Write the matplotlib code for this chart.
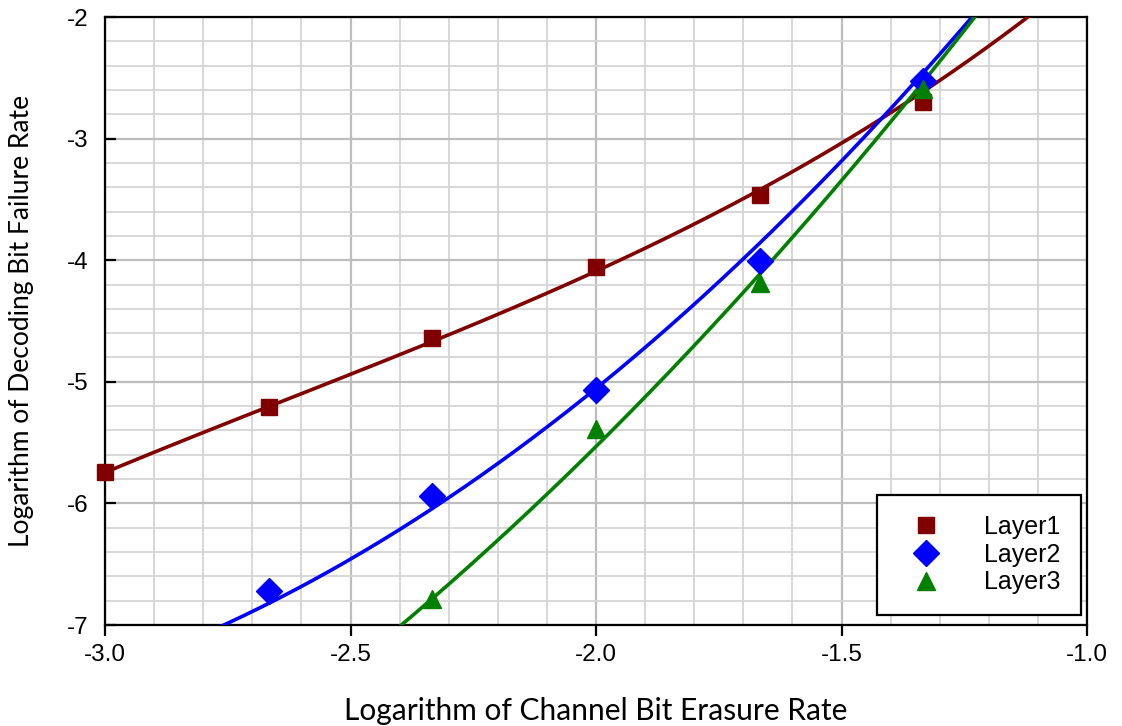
import numpy as np
import matplotlib
matplotlib.use("Agg")
import matplotlib.pyplot as plt
from matplotlib.ticker import MultipleLocator

# measured points
x1 = [-3.0, -2.667, -2.333, -2.0, -1.667, -1.333]
y1 = [-5.74, -5.21, -4.64, -4.06, -3.46, -2.70]
x2 = [-2.667, -2.333, -2.0, -1.667, -1.333]
y2 = [-6.72, -5.94, -5.07, -4.01, -2.53]
x3 = [-2.333, -2.0, -1.667, -1.333]
y3 = [-6.79, -5.39, -4.19, -2.59]

# trend curves
c1x = [-3.0, -2.667, -2.333, -2.0, -1.667, -1.334, -1.122]
c1y = [-5.74, -5.22, -4.66, -4.08, -3.43, -2.62, -2.0]
c2x = [-2.760, -2.0, -1.667, -1.232]
c2y = [-7.0, -5.08, -3.83, -2.0]
c3x = [-2.397, -2.0, -1.667, -1.228]
c3y = [-7.0, -5.54, -4.11, -2.0]
degrees = [3, 2, 2]

labels = ["Layer1", "Layer2", "Layer3"]
colors = ["#800000", "#0000FF", "#008000"]
markers = ["s", "D", "^"]
msizes = [12, 13, 13]

fig = plt.figure(figsize=(11.22, 7.26), dpi=100)
ax = fig.add_axes([105/1122, 1-625/726, (1087-105)/1122, (625-17)/726])

ax.xaxis.set_major_locator(MultipleLocator(0.5))
ax.xaxis.set_minor_locator(MultipleLocator(0.1))
ax.yaxis.set_major_locator(MultipleLocator(1))
ax.yaxis.set_minor_locator(MultipleLocator(0.2))
ax.grid(which="minor", color="#d4d4d4", linewidth=1.3)
ax.grid(which="major", color="#bdbdbd", linewidth=1.6)
ax.set_axisbelow(True)

xx = np.linspace(-3.2, -0.9, 400)
handles = []
for xs, ys, cx, cy, deg, c, m, ms, lab in zip([x1, x2, x3], [y1, y2, y3], [c1x, c2x, c3x],
                                               [c1y, c2y, c3y], degrees, colors, markers, msizes, labels):
    p = np.polyfit(cx, cy, deg)
    ax.plot(xx, np.polyval(p, xx), color=c, lw=2.6, zorder=3)
    h, = ax.plot(xs, ys, linestyle="none", marker=m, color=c, ms=ms, zorder=4, label=lab, clip_on=False)
    handles.append(h)

ax.set_xlim(-3.0, -1.0)
ax.set_ylim(-7, -2)

for s in ax.spines.values():
    s.set_color("black")
    s.set_linewidth(1.6)

ax.tick_params(axis="x", which="major", direction="out", length=8, width=1.6, labelsize=17.5, pad=6)
ax.tick_params(axis="y", which="major", direction="in", length=8, width=1.6, labelsize=17.5, pad=12)
ax.tick_params(which="minor", length=0)
xt = [-3.0, -2.5, -2.0, -1.5, -1.0]
yt = [-7, -6, -5, -4, -3, -2]
ax.set_xticks(xt)
ax.set_yticks(yt)
ax.set_xticklabels([f"{v:.1f}" for v in xt], family="Liberation Sans")
ax.set_yticklabels([f"{v}" for v in yt], family="Liberation Sans")
ax.set_xlim(-3.0, -1.0)
ax.set_ylim(-7, -2)

ax.set_xlabel("Logarithm of Channel Bit Erasure Rate", family="Lato", fontsize=21.5)
ax.xaxis.set_label_coords(0.5, -(711-625)/608, transform=ax.transAxes)
ax.xaxis.label.set_va("center")
ax.set_ylabel("Logarithm of Decoding Bit Failure Rate", family="Lato", fontsize=19)
ax.yaxis.set_label_coords(-(105-22)/982, 0.5, transform=ax.transAxes)
ax.yaxis.label.set_va("center")

leg = ax.legend(handles=handles, loc="upper left",
                bbox_to_anchor=((877-105)/982, (625-495)/608),
                prop={"family": "Liberation Sans", "size": 18}, frameon=True, fancybox=False,
                borderpad=0.8, handletextpad=1.2, labelspacing=0.15, borderaxespad=0,
                handlelength=2.3)
leg.get_frame().set_edgecolor("black")
leg.get_frame().set_linewidth(1.6)
leg.get_frame().set_alpha(1)
for lh, ms in zip(leg.legend_handles, [11, 13, 12.5]):
    lh.set_markersize(ms)

fig.savefig("out.png", dpi=100)
